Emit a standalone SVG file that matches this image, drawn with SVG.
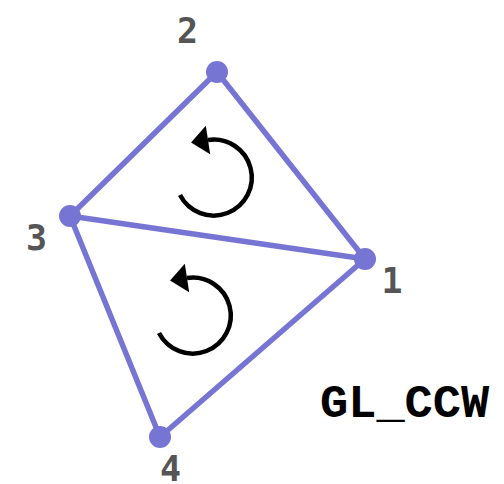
<svg xmlns="http://www.w3.org/2000/svg" width="504" height="484" viewBox="0 0 504 484">
<style>
.edge{stroke:#7775d3;stroke-width:5.5;fill:none;stroke-linecap:round}
.vtx{fill:#7775d3}
.lbl{font-family:"DejaVu Sans Mono",monospace;font-weight:bold;font-size:35px;fill:#555;text-anchor:middle}
.rot{stroke:#000;stroke-width:4.5;fill:none}
.title{font-family:"Liberation Mono","Courier New",monospace;font-weight:bold;font-size:47px;fill:#000}
</style>
<defs>
<marker id="ah" markerUnits="userSpaceOnUse" markerWidth="20" markerHeight="30" refX="0" refY="0" viewBox="0 -14 18 28" orient="auto" overflow="visible">
<path d="M0,-13.5 L16,0 L0,13.5 z" fill="#000"/>
</marker>
<path id="arc" d="M180,195 A38,38 0 1 0 208,140"/>
</defs>
<g id="connectors">
<line class="edge" x1="217" y1="72" x2="70" y2="216"/>
<line class="edge" x1="217" y1="72" x2="365" y2="259"/>
<line class="edge" x1="70" y1="216" x2="365" y2="259"/>
<line class="edge" x1="70" y1="216" x2="160" y2="437"/>
<line class="edge" x1="365" y1="259" x2="160" y2="437"/>
</g>
<g id="node1"><circle class="vtx" cx="365" cy="259" r="11"/><text class="lbl" x="392" y="293">1</text></g>
<g id="node2"><circle class="vtx" cx="217" cy="72" r="11"/><text class="lbl" x="187.5" y="43">2</text></g>
<g id="node3"><circle class="vtx" cx="70" cy="216" r="11"/><text class="lbl" x="36.5" y="250">3</text></g>
<g id="node4"><circle class="vtx" cx="160" cy="437" r="11"/><text class="lbl" x="170.5" y="481">4</text></g>
<g id="rotation-upper"><use href="#arc" class="rot" marker-end="url(#ah)"/></g>
<g id="rotation-lower" transform="translate(-21,138)"><use href="#arc" class="rot" marker-end="url(#ah)"/></g>
<g id="label"><text class="title" x="320" y="417">GL_CCW</text></g>
</svg>
